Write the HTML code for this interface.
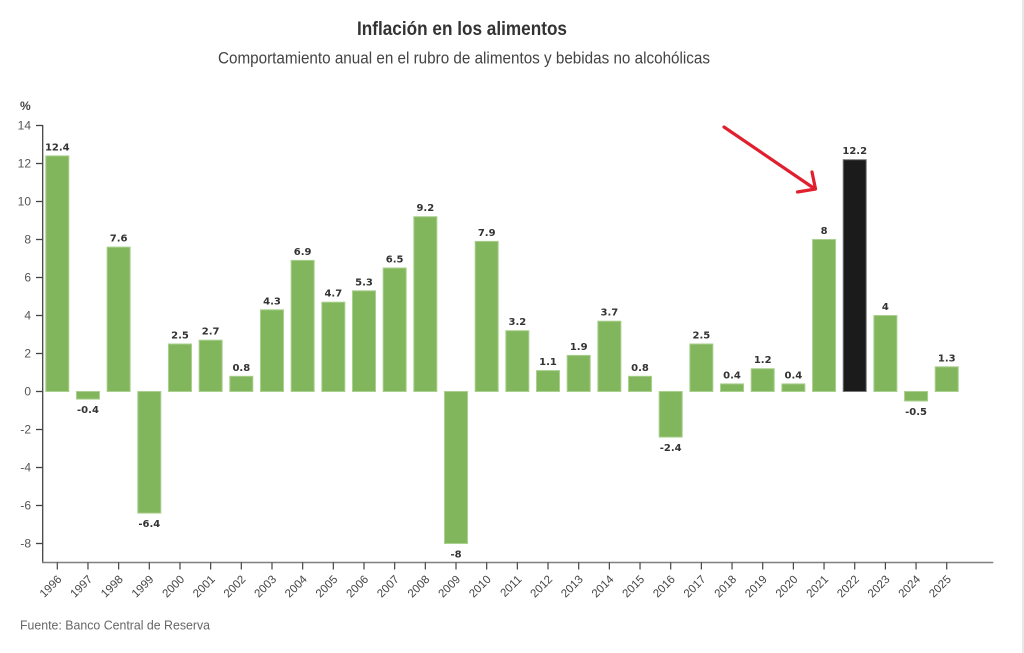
<!DOCTYPE html>
<html>
<head>
<meta charset="utf-8">
<style>
html,body{margin:0;padding:0;background:#fff;}
svg{display:block;}
</style>
</head>
<body>
<svg width="1024" height="653" viewBox="0 0 1024 653" xmlns="http://www.w3.org/2000/svg" font-family="'Liberation Sans', sans-serif">
<rect x="0" y="0" width="1024" height="653" fill="#fff"/>
<rect x="1022" y="0" width="2" height="653" fill="#e8e8e8"/>

<text x="357" y="35" font-size="19.5" font-weight="bold" fill="#333" textLength="210" lengthAdjust="spacingAndGlyphs">Inflación en los alimentos</text>
<text x="218" y="63.5" font-size="16.5" fill="#444" textLength="492" lengthAdjust="spacingAndGlyphs">Comportamiento anual en el rubro de alimentos y bebidas no alcohólicas</text>

<text x="20" y="110" font-size="12" font-weight="bold" fill="#444">%</text>

<!-- y axis -->
<g stroke="#444" stroke-width="1.3">
<line x1="42.7" y1="125" x2="42.7" y2="563"/>
<line x1="36" y1="125.5" x2="42.7" y2="125.5"/>
<line x1="36" y1="163.5" x2="42.7" y2="163.5"/>
<line x1="36" y1="201.5" x2="42.7" y2="201.5"/>
<line x1="36" y1="239.5" x2="42.7" y2="239.5"/>
<line x1="36" y1="277.5" x2="42.7" y2="277.5"/>
<line x1="36" y1="315.5" x2="42.7" y2="315.5"/>
<line x1="36" y1="353.5" x2="42.7" y2="353.5"/>
<line x1="36" y1="391.5" x2="42.7" y2="391.5"/>
<line x1="36" y1="429.5" x2="42.7" y2="429.5"/>
<line x1="36" y1="467.5" x2="42.7" y2="467.5"/>
<line x1="36" y1="505.5" x2="42.7" y2="505.5"/>
<line x1="36" y1="543.5" x2="42.7" y2="543.5"/>
</g>
<g font-size="12" fill="#555" text-anchor="end">
<text x="31" y="129.5">14</text>
<text x="31" y="167.5">12</text>
<text x="31" y="205.5">10</text>
<text x="31" y="243.5">8</text>
<text x="31" y="281.5">6</text>
<text x="31" y="319.5">4</text>
<text x="31" y="357.5">2</text>
<text x="31" y="395.5">0</text>
<text x="31" y="433.5">-2</text>
<text x="31" y="471.5">-4</text>
<text x="31" y="509.5">-6</text>
<text x="31" y="547.5">-8</text>
</g>

<!-- bars -->
<g fill="#82b65c" stroke="#a9d08e" stroke-width="1">
<rect x="45.8" y="155.9" width="23" height="235.6"/>
<rect x="76.47" y="391.5" width="23" height="7.6"/>
<rect x="107.14" y="247.1" width="23" height="144.4"/>
<rect x="137.81" y="391.5" width="23" height="121.6"/>
<rect x="168.48" y="344" width="23" height="47.5"/>
<rect x="199.15" y="340.2" width="23" height="51.3"/>
<rect x="229.82" y="376.3" width="23" height="15.2"/>
<rect x="260.49" y="309.8" width="23" height="81.7"/>
<rect x="291.16" y="260.4" width="23" height="131.1"/>
<rect x="321.83" y="302.2" width="23" height="89.3"/>
<rect x="352.5" y="290.8" width="23" height="100.7"/>
<rect x="383.17" y="268" width="23" height="123.5"/>
<rect x="413.84" y="216.7" width="23" height="174.8"/>
<rect x="444.51" y="391.5" width="23" height="152"/>
<rect x="475.18" y="241.4" width="23" height="150.1"/>
<rect x="505.85" y="330.7" width="23" height="60.8"/>
<rect x="536.52" y="370.6" width="23" height="20.9"/>
<rect x="567.19" y="355.4" width="23" height="36.1"/>
<rect x="597.86" y="321.2" width="23" height="70.3"/>
<rect x="628.53" y="376.3" width="23" height="15.2"/>
<rect x="659.2" y="391.5" width="23" height="45.6"/>
<rect x="689.87" y="344" width="23" height="47.5"/>
<rect x="720.54" y="383.9" width="23" height="7.6"/>
<rect x="751.21" y="368.7" width="23" height="22.8"/>
<rect x="781.88" y="383.9" width="23" height="7.6"/>
<rect x="812.55" y="239.5" width="23" height="152"/>
<rect x="873.89" y="315.5" width="23" height="76"/>
<rect x="904.56" y="391.5" width="23" height="9.5"/>
<rect x="935.23" y="366.8" width="23" height="24.7"/>
</g>
<rect x="843.22" y="159.7" width="23" height="231.8" fill="#1b1b1b" stroke="#777" stroke-width="1"/>

<!-- value labels -->
<g font-family="'DejaVu Sans', sans-serif" font-size="10" font-weight="bold" fill="#333" text-anchor="middle">
<text x="57.3" y="150.4">12.4</text>
<text x="87.97" y="413.1">-0.4</text>
<text x="118.64" y="241.6">7.6</text>
<text x="149.31" y="527.1">-6.4</text>
<text x="179.98" y="338.5">2.5</text>
<text x="210.65" y="334.7">2.7</text>
<text x="241.32" y="370.8">0.8</text>
<text x="271.99" y="304.3">4.3</text>
<text x="302.66" y="254.9">6.9</text>
<text x="333.33" y="296.7">4.7</text>
<text x="364" y="285.3">5.3</text>
<text x="394.67" y="262.5">6.5</text>
<text x="425.34" y="211.2">9.2</text>
<text x="456.01" y="557.5">-8</text>
<text x="486.68" y="235.9">7.9</text>
<text x="517.35" y="325.2">3.2</text>
<text x="548.02" y="365.1">1.1</text>
<text x="578.69" y="349.9">1.9</text>
<text x="609.36" y="315.7">3.7</text>
<text x="640.03" y="370.8">0.8</text>
<text x="670.7" y="451.1">-2.4</text>
<text x="701.37" y="338.5">2.5</text>
<text x="732.04" y="378.4">0.4</text>
<text x="762.71" y="363.2">1.2</text>
<text x="793.38" y="378.4">0.4</text>
<text x="824.05" y="234">8</text>
<text x="854.72" y="154.2">12.2</text>
<text x="885.39" y="310">4</text>
<text x="916.06" y="415">-0.5</text>
<text x="946.73" y="361.3">1.3</text>
</g>

<!-- x axis -->
<line x1="42" y1="562.5" x2="993.3" y2="562.5" stroke="#808080" stroke-width="1.5"/>
<g stroke="#444" stroke-width="1.2">
<line x1="57.3" y1="562.5" x2="57.3" y2="569.5"/>
<line x1="87.97" y1="562.5" x2="87.97" y2="569.5"/>
<line x1="118.64" y1="562.5" x2="118.64" y2="569.5"/>
<line x1="149.31" y1="562.5" x2="149.31" y2="569.5"/>
<line x1="179.98" y1="562.5" x2="179.98" y2="569.5"/>
<line x1="210.65" y1="562.5" x2="210.65" y2="569.5"/>
<line x1="241.32" y1="562.5" x2="241.32" y2="569.5"/>
<line x1="271.99" y1="562.5" x2="271.99" y2="569.5"/>
<line x1="302.66" y1="562.5" x2="302.66" y2="569.5"/>
<line x1="333.33" y1="562.5" x2="333.33" y2="569.5"/>
<line x1="364" y1="562.5" x2="364" y2="569.5"/>
<line x1="394.67" y1="562.5" x2="394.67" y2="569.5"/>
<line x1="425.34" y1="562.5" x2="425.34" y2="569.5"/>
<line x1="456.01" y1="562.5" x2="456.01" y2="569.5"/>
<line x1="486.68" y1="562.5" x2="486.68" y2="569.5"/>
<line x1="517.35" y1="562.5" x2="517.35" y2="569.5"/>
<line x1="548.02" y1="562.5" x2="548.02" y2="569.5"/>
<line x1="578.69" y1="562.5" x2="578.69" y2="569.5"/>
<line x1="609.36" y1="562.5" x2="609.36" y2="569.5"/>
<line x1="640.03" y1="562.5" x2="640.03" y2="569.5"/>
<line x1="670.7" y1="562.5" x2="670.7" y2="569.5"/>
<line x1="701.37" y1="562.5" x2="701.37" y2="569.5"/>
<line x1="732.04" y1="562.5" x2="732.04" y2="569.5"/>
<line x1="762.71" y1="562.5" x2="762.71" y2="569.5"/>
<line x1="793.38" y1="562.5" x2="793.38" y2="569.5"/>
<line x1="824.05" y1="562.5" x2="824.05" y2="569.5"/>
<line x1="854.72" y1="562.5" x2="854.72" y2="569.5"/>
<line x1="885.39" y1="562.5" x2="885.39" y2="569.5"/>
<line x1="916.06" y1="562.5" x2="916.06" y2="569.5"/>
<line x1="946.73" y1="562.5" x2="946.73" y2="569.5"/>
</g>
<g font-size="11.5" fill="#444" text-anchor="end">
<text transform="translate(62.3,580) rotate(-45)">1996</text>
<text transform="translate(92.97,580) rotate(-45)">1997</text>
<text transform="translate(123.64,580) rotate(-45)">1998</text>
<text transform="translate(154.31,580) rotate(-45)">1999</text>
<text transform="translate(184.98,580) rotate(-45)">2000</text>
<text transform="translate(215.65,580) rotate(-45)">2001</text>
<text transform="translate(246.32,580) rotate(-45)">2002</text>
<text transform="translate(276.99,580) rotate(-45)">2003</text>
<text transform="translate(307.66,580) rotate(-45)">2004</text>
<text transform="translate(338.33,580) rotate(-45)">2005</text>
<text transform="translate(369,580) rotate(-45)">2006</text>
<text transform="translate(399.67,580) rotate(-45)">2007</text>
<text transform="translate(430.34,580) rotate(-45)">2008</text>
<text transform="translate(461.01,580) rotate(-45)">2009</text>
<text transform="translate(491.68,580) rotate(-45)">2010</text>
<text transform="translate(522.35,580) rotate(-45)">2011</text>
<text transform="translate(553.02,580) rotate(-45)">2012</text>
<text transform="translate(583.69,580) rotate(-45)">2013</text>
<text transform="translate(614.36,580) rotate(-45)">2014</text>
<text transform="translate(645.03,580) rotate(-45)">2015</text>
<text transform="translate(675.7,580) rotate(-45)">2016</text>
<text transform="translate(706.37,580) rotate(-45)">2017</text>
<text transform="translate(737.04,580) rotate(-45)">2018</text>
<text transform="translate(767.71,580) rotate(-45)">2019</text>
<text transform="translate(798.38,580) rotate(-45)">2020</text>
<text transform="translate(829.05,580) rotate(-45)">2021</text>
<text transform="translate(859.72,580) rotate(-45)">2022</text>
<text transform="translate(890.39,580) rotate(-45)">2023</text>
<text transform="translate(921.06,580) rotate(-45)">2024</text>
<text transform="translate(951.73,580) rotate(-45)">2025</text>
</g>

<!-- arrow -->
<g stroke="#e0202e" stroke-width="3.2" stroke-linecap="round" stroke-linejoin="round" fill="none">
<line x1="724" y1="127" x2="815" y2="189"/>
<polyline points="812,172 815.5,189 797.5,192"/>
</g>

<text x="20" y="629.5" font-size="13" fill="#666" textLength="190" lengthAdjust="spacingAndGlyphs">Fuente: Banco Central de Reserva</text>
</svg>
</body>
</html>
